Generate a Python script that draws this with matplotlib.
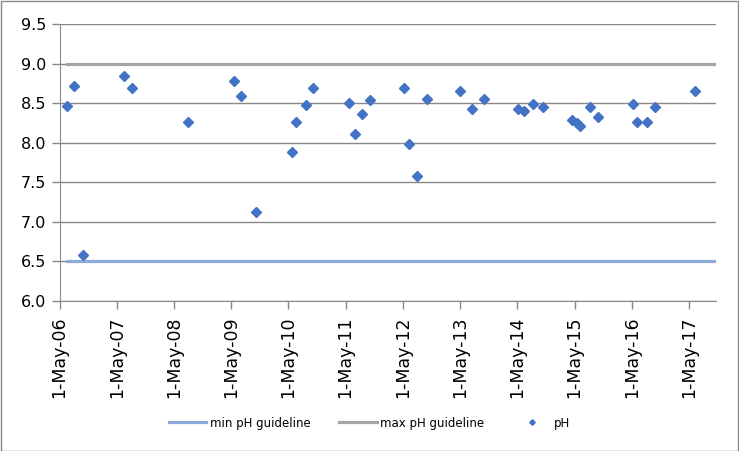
import matplotlib
matplotlib.use("Agg")
import matplotlib.pyplot as plt
import matplotlib.dates as mdates
from matplotlib.patches import Rectangle
from datetime import datetime

# sample dates and pH readings
sample_dates = [
    "2006-06-15", "2006-07-30", "2006-09-25",
    "2007-06-17", "2007-08-05",
    "2008-07-31",
    "2009-05-20", "2009-07-05", "2009-10-05",
    "2010-05-26", "2010-06-21", "2010-08-22", "2010-10-04",
    "2011-05-23", "2011-06-27", "2011-08-15", "2011-10-03",
    "2012-05-08", "2012-06-10", "2012-07-28", "2012-10-03",
    "2013-05-01", "2013-07-17", "2013-10-03",
    "2014-05-05", "2014-06-10", "2014-08-08", "2014-10-13",
    "2015-04-18", "2015-05-14", "2015-06-08", "2015-08-07", "2015-09-29",
    "2016-05-08", "2016-06-03", "2016-08-04", "2016-09-25",
    "2017-06-07",
]
ph_values = [
    8.47, 8.72, 6.58,
    8.85, 8.69,
    8.26,
    8.78, 8.59, 7.12,
    7.89, 8.27, 8.48, 8.69,
    8.51, 8.11, 8.37, 8.54,
    8.69, 7.99, 7.58, 8.55,
    8.66, 8.43, 8.55,
    8.43, 8.40, 8.49, 8.46,
    8.29, 8.25, 8.21, 8.45, 8.33,
    8.49, 8.27, 8.26, 8.46,
    8.66,
]

guide_dates = ["2006-06-15", "2017-10-20"]
min_guideline = [6.5, 6.5]
max_guideline = [9.0, 9.0]

tick_years = list(range(2006, 2018))


def to_dt(lst):
    return [datetime.strptime(s, "%Y-%m-%d") for s in lst]


fig = plt.figure(figsize=(7.39, 4.51), dpi=100)
ax = fig.add_axes([59.5 / 739, 1 - 301 / 451, (716 - 59.5) / 739, (301 - 24.3) / 451])

gd = to_dt(guide_dates)
ax.plot(gd, min_guideline, color="#8EA9DB", lw=2.3, label="min pH guideline", zorder=3)
ax.plot(gd, max_guideline, color="#A5A5A5", lw=2.3, label="max pH guideline", zorder=3)
ax.plot(to_dt(sample_dates), ph_values, linestyle="none", marker="D", markersize=5.6,
        color="#4472C4", label="pH", zorder=4)

ax.set_ylim(6.0, 9.5)
ax.set_yticks([6.0, 6.5, 7.0, 7.5, 8.0, 8.5, 9.0, 9.5])
ax.yaxis.set_major_formatter(plt.FormatStrFormatter("%.1f"))
ax.set_xlim(datetime(2006, 5, 1), datetime(2017, 10, 20))
ax.set_xticks([datetime(y, 5, 1) for y in tick_years])
ax.xaxis.set_major_formatter(mdates.DateFormatter("%-d-%b-%y"))
plt.setp(ax.get_xticklabels(), rotation=90)

ax.grid(axis="y", color="#898989", lw=1)
ax.set_axisbelow(True)
for s in ["top", "right"]:
    ax.spines[s].set_visible(False)
for s in ["left", "bottom"]:
    ax.spines[s].set_color("#898989")
ax.tick_params(axis="both", colors="#898989", length=6, width=1, labelsize=11.5,
               labelcolor="black")
ax.tick_params(axis="x", pad=5, labelsize=12.5)

leg = fig.legend(loc="center", bbox_to_anchor=(0.5, 1 - 423 / 451), ncol=3, frameon=False,
                 prop={"family": ["Liberation Sans Narrow", "DejaVu Sans"], "size": 8.5},
                 handlelength=3.2, columnspacing=2.4, handletextpad=0.3, markerscale=0.5)

# outer chart border
fig.patches.append(Rectangle((0.001, 0.001), 0.997, 0.997, transform=fig.transFigure,
                             fill=False, edgecolor="#898989", lw=1))

fig.savefig("out.png", dpi=100)
